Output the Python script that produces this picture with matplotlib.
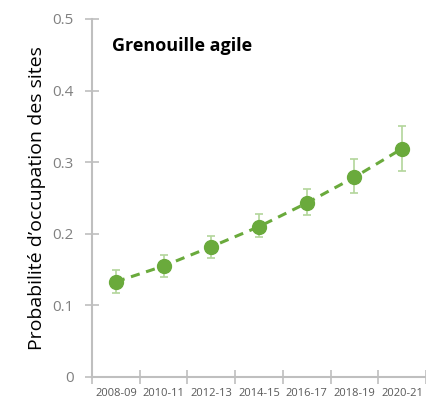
import matplotlib.pyplot as plt

periods = ["2008-09", "2010-11", "2012-13", "2014-15", "2016-17", "2018-19", "2020-21"]
occupancy = [0.133, 0.155, 0.182, 0.210, 0.243, 0.279, 0.319]
lower = [0.117, 0.140, 0.166, 0.196, 0.226, 0.257, 0.288]
upper = [0.149, 0.171, 0.197, 0.227, 0.262, 0.304, 0.350]

plt.rcParams['font.family'] = ['Open Sans', 'DejaVu Sans']

green = "#6aaa3c"
light_green = "#b3d69b"
grey = "#bfbfbf"

x = list(range(len(periods)))
err_low = [o - l for o, l in zip(occupancy, lower)]
err_high = [u - o for o, u in zip(occupancy, upper)]

fig = plt.figure(figsize=(4.26, 4.0), dpi=100)
ax = fig.add_axes([0.216, 0.0575, 0.784, 0.895])

ax.errorbar(x, occupancy, yerr=[err_low, err_high], fmt="none",
            ecolor=light_green, elinewidth=1.2, capsize=3, capthick=1.2, zorder=2)
ax.plot(x, occupancy, linestyle=(0, (3, 2.2)), color=green, linewidth=2.2, zorder=3)
ax.plot(x, occupancy, "o", color=green, markersize=10, zorder=4)

ax.set_xlim(-0.5, 6.5)
ax.set_ylim(0, 0.5)
ax.set_yticks([0, 0.1, 0.2, 0.3, 0.4, 0.5])
ax.set_yticklabels(["0", "0.1", "0.2", "0.3", "0.4", "0.5"])
ax.set_xticks(x)
ax.set_xticklabels(periods)
ax.set_xticks([i + 0.5 for i in range(-1, 7)], minor=True)

for side in ["top", "right"]:
    ax.spines[side].set_visible(False)
for side in ["left", "bottom"]:
    ax.spines[side].set_color(grey)
    ax.spines[side].set_linewidth(1.5)

ax.tick_params(axis="y", direction="inout", length=10, width=1.2, color=grey,
               labelcolor="#808080", labelsize=11, pad=8)
ax.tick_params(axis="x", which="major", length=0, labelcolor="#595959", labelsize=8, pad=8)
ax.tick_params(axis="x", which="minor", direction="inout", length=10, width=1.2, color=grey)

ax.set_ylabel("Probabilité d’occupation des sites", fontsize=14, labelpad=5)
ax.text(0.06, 0.925, "Grenouille agile", transform=ax.transAxes, fontsize=13,
        fontweight="bold", va="center", ha="left")

fig.savefig("out.png", dpi=100)
